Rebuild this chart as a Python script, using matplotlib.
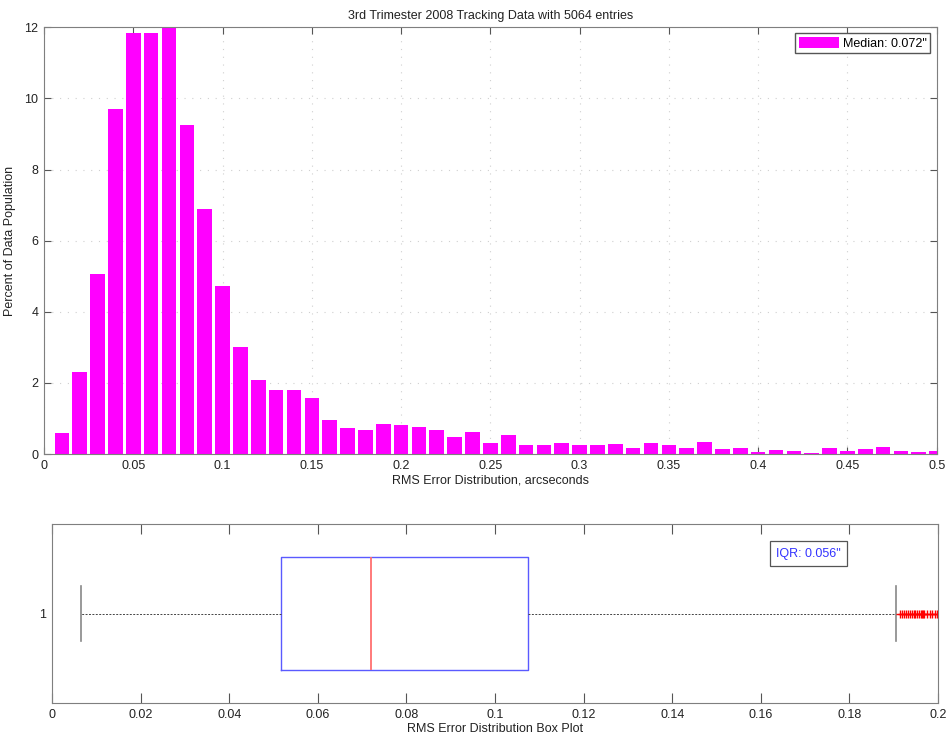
import numpy as np
import matplotlib
matplotlib.use("Agg")
from matplotlib import pyplot as plt
from matplotlib.ticker import FuncFormatter

# Histogram: bin centers (arcseconds) and percent of data population
bin_centers = [round(0.01 * i, 2) for i in range(1, 51)]
percent = [
    0.58, 2.30, 5.05, 9.70, 11.85, 11.85, 12.05, 9.25, 6.90, 4.72,
    3.00, 2.08, 1.80, 1.80, 1.57, 0.96, 0.72, 0.68, 0.85, 0.82,
    0.77, 0.67, 0.48, 0.63, 0.32, 0.54, 0.27, 0.27, 0.31, 0.25,
    0.25, 0.29, 0.16, 0.31, 0.25, 0.16, 0.33, 0.14, 0.18, 0.05,
    0.11, 0.08, 0.03, 0.17, 0.08, 0.13, 0.19, 0.09, 0.06, 0.08,
]

# Box plot statistics (arcseconds)
whisker_low = 0.0066
q1 = 0.0516
median = 0.072
q3 = 0.1074
whisker_high = 0.1905
outliers = [0.1915, 0.1919, 0.1923, 0.1927, 0.1932, 0.1936, 0.1941, 0.1945,
            0.1949, 0.1953, 0.1958, 0.1962, 0.1964, 0.1966, 0.1968, 0.1975,
            0.1982, 0.1986, 0.1993, 0.1997]

plt.rcParams['font.family'] = ['Liberation Sans', 'DejaVu Sans']
plt.rcParams['font.size'] = 8.5

fig = plt.figure(figsize=(9.49, 7.36), dpi=100)

spine_col = '#7f7f7f'
text_col = '#222222'

# histograma
ax1 = fig.add_axes([0.0464, 0.383, 0.9406, 0.580])
ax1.bar(bin_centers, percent, width=0.0082, color='#ff00ff',
        label='Median: 0.072"', zorder=2)
ax1.set_xlim(0, 0.5)
ax1.set_ylim(0, 12)
ax1.set_xticks(np.arange(0, 0.501, 0.05))
ax1.set_yticks(np.arange(0, 12.1, 2))
ax1.xaxis.set_major_formatter(FuncFormatter(lambda v, p: f"{v:g}"))
ax1.grid(True, linestyle=(0, (1, 6)), color='#d0d0d0', linewidth=0.8, zorder=0)
ax1.set_title("3rd Trimester 2008 Tracking Data with 5064 entries",
              fontsize=9, color=text_col, pad=6)
ax1.set_xlabel("RMS Error Distribution, arcseconds", fontsize=9, color=text_col, labelpad=2)
ax1.set_ylabel("Percent of Data Population", fontsize=9, color=text_col, labelpad=6)
ax1.legend(loc='upper right', fontsize=9, fancybox=False, framealpha=1,
           edgecolor='#555555', handlelength=3.2, handleheight=0.9,
           borderaxespad=0.5, handletextpad=0.3, borderpad=0.3)

# box plot
ax2 = fig.add_axes([0.0548, 0.0448, 0.9336, 0.243])
stats = [dict(med=median, q1=q1, q3=q3, whislo=whisker_low, whishi=whisker_high,
              fliers=outliers, label='1')]
ax2.bxp(stats, positions=[1], widths=0.63, vert=False, showfliers=True,
        boxprops=dict(color='#5a5aff', linewidth=1.0),
        medianprops=dict(color='#ff7070', linewidth=1.3),
        whiskerprops=dict(color='#444444', linestyle=(0, (2, 1.5)), linewidth=0.7),
        capprops=dict(color='#888888', linewidth=1.2),
        flierprops=dict(marker='+', markeredgecolor='red', markersize=6,
                        markeredgewidth=1.0, linestyle='none'),
        capwidths=0.31)
ax2.set_xlim(0, 0.2)
ax2.set_ylim(0.5, 1.5)
ax2.set_xticks(np.arange(0, 0.201, 0.02))
ax2.xaxis.set_major_formatter(FuncFormatter(lambda v, p: f"{v:g}"))
ax2.set_xlabel("RMS Error Distribution Box Plot", fontsize=9, color=text_col, labelpad=2)
ax2.text(0.1635, 1.335, 'IQR: 0.056"', color='#3333ff', fontsize=9,
         va='center', ha='left',
         bbox=dict(boxstyle='square,pad=0.5', facecolor='white', edgecolor='#555555',
                   linewidth=0.9))

for ax in (ax1, ax2):
    for s in ax.spines.values():
        s.set_color(spine_col)
    ax.tick_params(direction='in', top=True, right=True, length=5,
                   color='#555555', labelcolor=text_col, labelsize=9, pad=4)

ax2.tick_params(axis='y', right=False, left=False)
ax2.tick_params(axis='x', length=7)

fig.savefig("out.png", dpi=100)
